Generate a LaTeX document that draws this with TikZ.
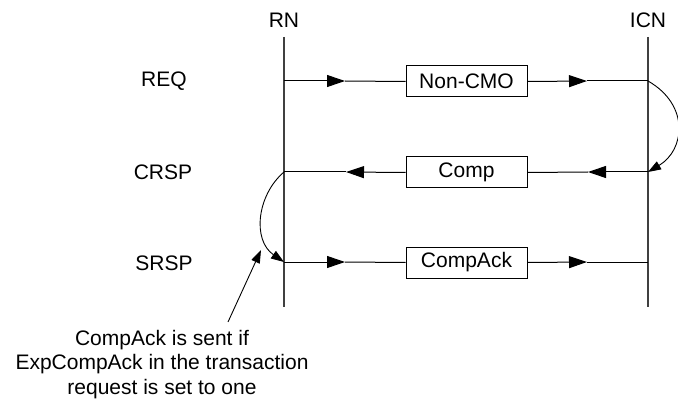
\documentclass[tikz,border=0pt]{standalone}
\usepackage{fontspec}
\setmainfont{Liberation Sans}
\usetikzlibrary{arrows.meta}
\begin{document}
\begin{tikzpicture}[x=1pt,y=-1pt,
  every node/.style={font=\fontsize{21}{24.5}\selectfont, inner sep=0pt},
  lifeline/.style={draw=black!75, line width=1.3pt},
  msg/.style={draw=black, line width=1pt},
  msgbox/.style={draw=black, line width=1pt, minimum width=121pt, minimum height=31pt},
  bigtip/.style={-{Triangle[length=18pt,width=12pt]}},
  smalltip/.style={-{Triangle[length=13pt,width=9pt]}},
  loop/.style={draw=black, line width=0.9pt, smalltip}]
\useasboundingbox (0,0) rectangle (678,401);

% lifelines and their titles
\node (rn)  at (284,20) {RN};
\node (icn) at (648,20) {ICN};
\coordinate (rntop)  at (284,37);
\coordinate (rnbot)  at (284,307);
\coordinate (icntop) at (648,37);
\coordinate (icnbot) at (648,307);
\draw[lifeline] (rntop) -- (rnbot);
\draw[lifeline] (icntop) -- (icnbot);

% row labels
\node (req)  at (164,81)  {REQ};
\node (crsp) at (163,172) {CRSP};
\node (srsp) at (164,263) {SRSP};

% message anchor points on the lifelines
\coordinate (rn1)  at (284,81);
\coordinate (icn1) at (648,81);
\coordinate (rn2)  at (284,172);
\coordinate (icn2) at (648,172);
\coordinate (rn3)  at (284,262);
\coordinate (icn3) at (648,262);

% message boxes
\node[msgbox] (m1) at (466.5,81.5)  {Non-CMO};
\node[msgbox] (m2) at (466.5,172.5) {Comp};
\node[msgbox] (m3) at (466.5,262.5) {CompAck};

% arrowhead positions along the messages
\coordinate (a1) at (345,81);
\coordinate (b1) at (587,81);
\coordinate (a2) at (346,172);
\coordinate (b2) at (588,172);
\coordinate (a3) at (345,262);
\coordinate (b3) at (587,262);

% REQ: RN -> ICN
\draw[msg,bigtip] (rn1) -- (a1);
\draw[msg] (a1) -- (m1.west);
\draw[msg,bigtip] (m1.east) -- (b1);
\draw[msg] (b1) -- (icn1);

% CRSP: ICN -> RN
\draw[msg,bigtip] (icn2) -- (b2);
\draw[msg] (b2) -- (m2.east);
\draw[msg,bigtip] (m2.west) -- (a2);
\draw[msg] (a2) -- (rn2);

% SRSP: RN -> ICN
\draw[msg,bigtip] (rn3) -- (a3);
\draw[msg] (a3) -- (m3.west);
\draw[msg,bigtip] (m3.east) -- (b3);
\draw[msg] (b3) -- (icn3);

% turnaround curves
\draw[loop] (icn1) .. controls (690,105) and (685,150) .. (icn2);
\draw[loop] (rn2) .. controls (257,195) and (252,240) .. (rn3);

% note
\node[align=center] (note) at (162,364.5)
  {CompAck is sent if\\ExpCompAck in the transaction\\request is set to one};
\coordinate (notetip) at (261,250);
\coordinate (notefoot) at (228,322);
\draw[msg,line width=0.9pt,smalltip] (notefoot) -- (notetip);
\end{tikzpicture}
\end{document}
